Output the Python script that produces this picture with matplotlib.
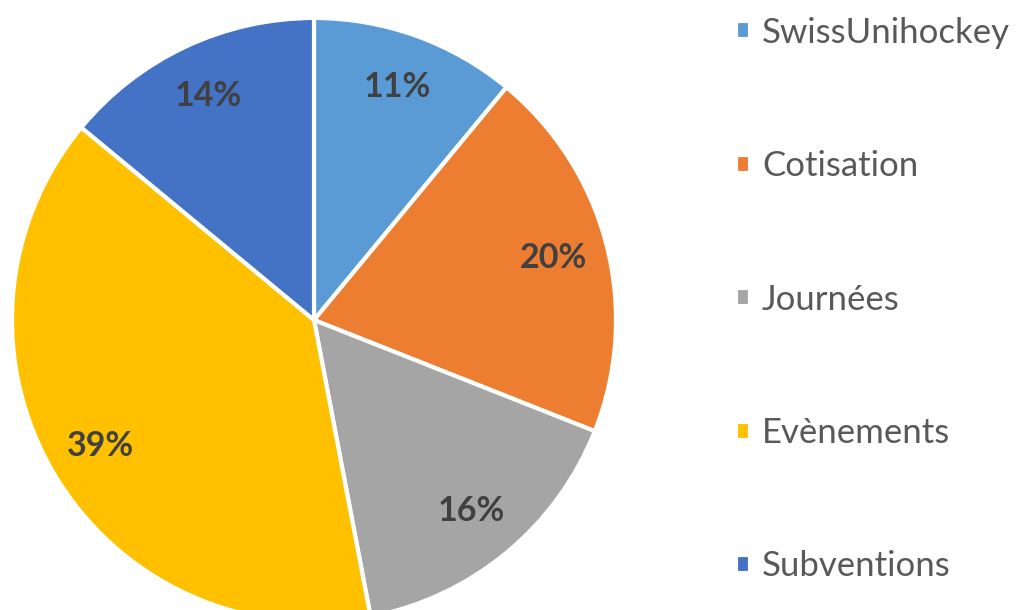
import matplotlib
matplotlib.use("Agg")
import matplotlib.pyplot as plt

# Répartition des recettes
labels = ['SwissUnihockey', 'Cotisation', 'Journées', 'Evènements', 'Subventions']
values = [11, 20, 16, 39, 14]
colors = ['#5B9BD5', '#ED7D31', '#A5A5A5', '#FFC000', '#4472C4']

plt.rcParams['font.family'] = ['Lato', 'DejaVu Sans']

fig = plt.figure(figsize=(10.17, 6.10), dpi=100)
W, H = 1017, 610
cx, cy, r = 314, 290, 302  # pixels, origin bottom-left
ax = fig.add_axes([(cx - r) / W, (cy - r) / H, 2 * r / W, 2 * r / H])

wedges, texts, autotexts = ax.pie(
    values, colors=colors, startangle=90, counterclock=False,
    autopct='%1.0f%%', pctdistance=0.82, radius=1,
    wedgeprops=dict(edgecolor='white', linewidth=3),
    textprops=dict(color='#404040', fontsize=24.5, fontweight='bold'))
ax.set_xlim(-1, 1)
ax.set_ylim(-1, 1)
ax.set_aspect('equal')

leg = fig.legend(wedges, labels, loc='upper left',
                 bbox_to_anchor=(722 / W, 1 - 3 / H),
                 frameon=False, fontsize=25, labelcolor='#595959',
                 labelspacing=2.92, handlelength=0.42, handleheight=0.42,
                 handletextpad=0.33, borderaxespad=0)

fig.savefig('out.png', dpi=100)
